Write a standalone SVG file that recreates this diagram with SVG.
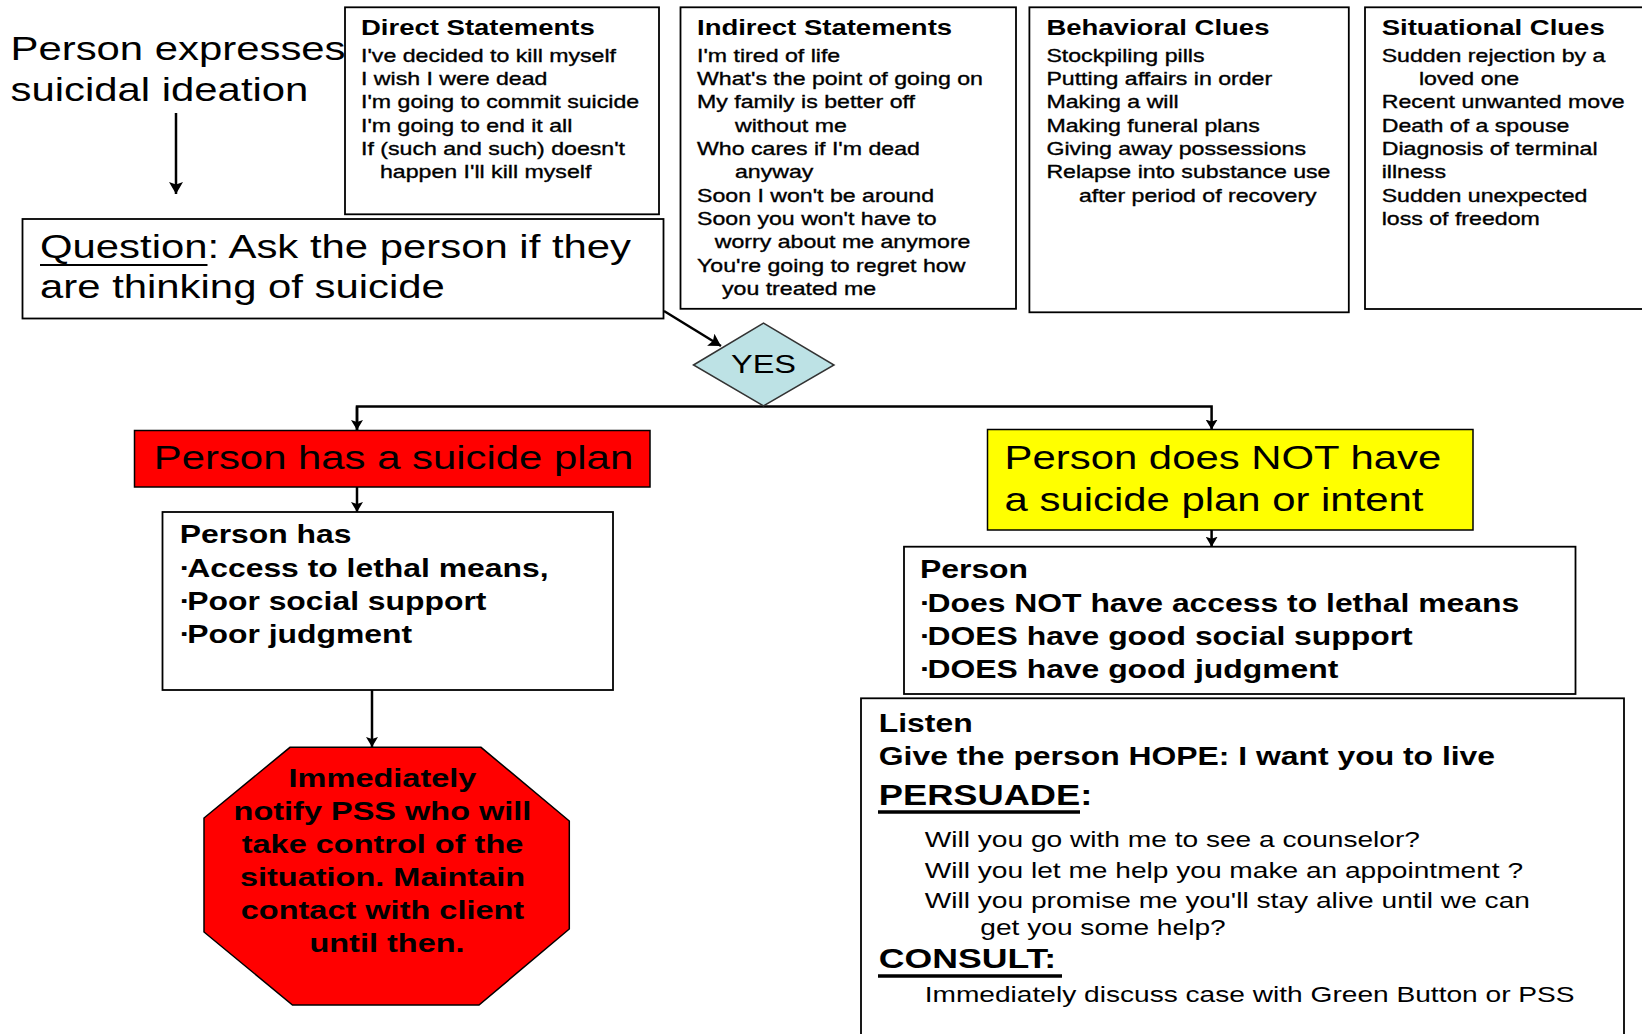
<svg xmlns="http://www.w3.org/2000/svg" width="1642" height="1034" viewBox="0 0 1642 1034">
  <style>
    text { font-family: "Liberation Sans", Arial, sans-serif; fill: #000; }
    .big { font-size: 33.5px; }
    .hd { font-size: 22px; font-weight: bold; }
    .body { font-size: 18.5px; stroke: #000; stroke-width: 0.35px; }
    .bb { font-size: 25.5px; font-weight: bold; }
    .oct { font-size: 26px; font-weight: bold; }
    .reg { font-size: 22.5px; }
    .sec { font-size: 29px; font-weight: bold; }
    .box { fill: #fff; stroke: #000; stroke-width: 1.8; }
    .conn { fill: none; stroke: #000; stroke-width: 2.5; }
    .ul { stroke: #000; }
  </style>
  <defs>
    <marker id="ah" viewBox="0 0 10 12" markerWidth="10" markerHeight="12" refX="10" refY="6" orient="auto" markerUnits="userSpaceOnUse">
      <path d="M0,0 L10,6 L0,12 L2,6 z" fill="#000"/>
    </marker>
    <marker id="ahb" viewBox="0 0 12 14" markerWidth="12" markerHeight="14" refX="12" refY="7" orient="auto" markerUnits="userSpaceOnUse">
      <path d="M0,0 L12,7 L0,14 L2.5,7 z" fill="#000"/>
    </marker>
  </defs>
  <rect width="1642" height="1034" fill="#fff"/>

  <g id="connectors">
    <line class="conn" x1="176" y1="113" x2="176" y2="194" stroke-width="2.8" marker-end="url(#ahb)"/>
    <line class="conn" x1="664" y1="311" x2="721" y2="346" stroke-width="3.5" marker-end="url(#ahb)"/>
    <polyline class="conn" points="357,430 357,406.5 1211.6,406.5 1211.6,429.5" marker-end="url(#ah)"/>
    <line class="conn" x1="357" y1="406.5" x2="357" y2="430" marker-end="url(#ah)"/>
    <line class="conn" x1="357" y1="487" x2="357" y2="512" marker-end="url(#ah)"/>
    <line class="conn" x1="372" y1="690" x2="372" y2="747" stroke-width="3" marker-end="url(#ah)"/>
    <line class="conn" x1="1211.6" y1="530" x2="1211.6" y2="546.7" marker-end="url(#ah)"/>
  </g>

  <g id="start">
    <text class="big" transform="translate(10.5,0) scale(1.25,1)"><tspan x="0" y="60">Person expresses</tspan><tspan x="0" y="101">suicidal ideation</tspan></text>
  </g>

  <g id="direct">
    <rect class="box" x="345" y="7.3" width="314" height="207"/>
    <text transform="translate(361,0) scale(1.25,1)"><tspan class="hd" x="0" y="35">Direct Statements</tspan></text>
    <text class="body" transform="translate(361,0) scale(1.25,1)">
      <tspan x="0" y="61.7">I've decided to kill myself</tspan>
      <tspan x="0" y="85">I wish I were dead</tspan>
      <tspan x="0" y="108.3">I'm going to commit suicide</tspan>
      <tspan x="0" y="131.7">I'm going to end it all</tspan>
      <tspan x="0" y="155">If (such and such) doesn't</tspan>
      <tspan x="15.2" y="178.3">happen I'll kill myself</tspan>
    </text>
  </g>

  <g id="indirect">
    <rect class="box" x="680.5" y="7.3" width="335.5" height="301.5"/>
    <text transform="translate(697,0) scale(1.25,1)"><tspan class="hd" x="0" y="35">Indirect Statements</tspan></text>
    <text class="body" transform="translate(697,0) scale(1.25,1)">
      <tspan x="0" y="61.7">I'm tired of life</tspan>
      <tspan x="0" y="85">What's the point of going on</tspan>
      <tspan x="0" y="108.3">My family is better off</tspan>
      <tspan x="30.4" y="131.7">without me</tspan>
      <tspan x="0" y="155">Who cares if I'm dead</tspan>
      <tspan x="30.4" y="178.3">anyway</tspan>
      <tspan x="0" y="201.7">Soon I won't be around</tspan>
      <tspan x="0" y="225">Soon you won't have to</tspan>
      <tspan x="14.2" y="248.3">worry about me anymore</tspan>
      <tspan x="0" y="271.7">You're going to regret how</tspan>
      <tspan x="20" y="295">you treated me</tspan>
    </text>
  </g>

  <g id="behavioral">
    <rect class="box" x="1029.4" y="7.3" width="319.4" height="305"/>
    <text transform="translate(1046.4,0) scale(1.25,1)"><tspan class="hd" x="0" y="35">Behavioral Clues</tspan></text>
    <text class="body" transform="translate(1046.4,0) scale(1.25,1)">
      <tspan x="0" y="61.7">Stockpiling pills</tspan>
      <tspan x="0" y="85">Putting affairs in order</tspan>
      <tspan x="0" y="108.3">Making a will</tspan>
      <tspan x="0" y="131.7">Making funeral plans</tspan>
      <tspan x="0" y="155">Giving away possessions</tspan>
      <tspan x="0" y="178.3">Relapse into substance use</tspan>
      <tspan x="26" y="201.7">after period of recovery</tspan>
    </text>
  </g>

  <g id="situational">
    <rect class="box" x="1365" y="7.3" width="300" height="301.7"/>
    <text transform="translate(1381.7,0) scale(1.25,1)"><tspan class="hd" x="0" y="35">Situational Clues</tspan></text>
    <text class="body" transform="translate(1381.7,0) scale(1.25,1)">
      <tspan x="0" y="61.7">Sudden rejection by a</tspan>
      <tspan x="29.8" y="85">loved one</tspan>
      <tspan x="0" y="108.3">Recent unwanted move</tspan>
      <tspan x="0" y="131.7">Death of a spouse</tspan>
      <tspan x="0" y="155">Diagnosis of terminal</tspan>
      <tspan x="0" y="178.3">illness</tspan>
      <tspan x="0" y="201.7">Sudden unexpected</tspan>
      <tspan x="0" y="225">loss of freedom</tspan>
    </text>
  </g>

  <g id="question">
    <rect class="box" x="22.5" y="219" width="641" height="99.5"/>
    <text class="big" transform="translate(40,0) scale(1.25,1)"><tspan x="0" y="258">Question: Ask the person if they</tspan><tspan x="0" y="298">are thinking of suicide</tspan></text>
    <line class="ul" x1="40" y1="265" x2="207.5" y2="265" stroke-width="2.2"/>
  </g>

  <g id="yes">
    <polygon points="693.5,365 763.5,323 834,365 763.5,406" fill="#bde2e5" stroke="#333" stroke-width="1.5"/>
    <text class="big" text-anchor="middle" transform="translate(763.5,0) scale(1.25,1)" style="font-size:26px"><tspan x="0" y="373.5">YES</tspan></text>
  </g>

  <g id="plan">
    <rect x="134.5" y="430.5" width="515.5" height="56.5" fill="#ff0000" stroke="#000" stroke-width="1.5"/>
    <text class="big" transform="translate(153.8,0) scale(1.25,1)"><tspan x="0" y="469.5">Person has a suicide plan</tspan></text>
  </g>

  <g id="has">
    <rect class="box" x="162.5" y="512" width="450.5" height="178"/>
    <text class="bb" transform="translate(179.7,0) scale(1.25,1)">
      <tspan x="0" y="543.3">Person has</tspan>
      <tspan x="0" y="576.7">·<tspan dx="-2.5">Access to lethal means,</tspan></tspan>
      <tspan x="0" y="610">·<tspan dx="-2.5">Poor social support</tspan></tspan>
      <tspan x="0" y="643.3">·<tspan dx="-2.5">Poor judgment</tspan></tspan>
    </text>
  </g>

  <g id="stop">
    <polygon points="290,747.3 481,747.3 569.3,821 569.3,929 479,1005 292.5,1005 204,932 204,818" fill="#ff0000" stroke="#000" stroke-width="1.5"/>
    <text class="oct" text-anchor="middle" transform="translate(387,0) scale(1.25,1)">
      <tspan x="0" y="787">Immediately</tspan>
      <tspan x="0" y="820">notify PSS who will</tspan>
      <tspan x="0" y="853">take control of the</tspan>
      <tspan x="0" y="886">situation. Maintain</tspan>
      <tspan x="0" y="919">contact with client</tspan>
      <tspan x="0" y="952">until then.</tspan>
    </text>
  </g>

  <g id="noplan">
    <rect x="987.5" y="429.5" width="485.5" height="100.5" fill="#ffff00" stroke="#000" stroke-width="1.5"/>
    <text class="big" transform="translate(1004.6,0) scale(1.25,1)"><tspan x="0" y="469.3">Person does NOT have</tspan><tspan x="0" y="510.7">a suicide plan or intent</tspan></text>
  </g>

  <g id="person">
    <rect class="box" x="904" y="546.7" width="671.5" height="147.3"/>
    <text class="bb" transform="translate(920,0) scale(1.25,1)">
      <tspan x="0" y="578.3">Person</tspan>
      <tspan x="0" y="611.7">·<tspan dx="-2.5">Does NOT have access to lethal means</tspan></tspan>
      <tspan x="0" y="645">·<tspan dx="-2.5">DOES have good social support</tspan></tspan>
      <tspan x="0" y="678.3">·<tspan dx="-2.5">DOES have good judgment</tspan></tspan>
    </text>
  </g>

  <g id="listen">
    <rect class="box" x="861" y="698.3" width="763" height="400"/>
    <text class="bb" transform="translate(878.8,0) scale(1.25,1)">
      <tspan x="0" y="731.7">Listen</tspan>
      <tspan x="0" y="765">Give the person HOPE: I want you to live</tspan>
    </text>
    <text class="sec" transform="translate(878.8,0) scale(1.25,1)"><tspan x="0" y="805">PERSUADE:</tspan></text>
    <line class="ul" x1="878" y1="812" x2="1080" y2="812" stroke-width="3.5"/>
    <text class="reg" transform="translate(924.7,0) scale(1.25,1)">
      <tspan x="0" y="846.7">Will you go with me to see a counselor?</tspan>
      <tspan x="0" y="878.3">Will you let me help you make an appointment ?</tspan>
      <tspan x="0" y="907.7">Will you promise me you'll stay alive until we can</tspan>
      <tspan x="44.5" y="935">get you some help?</tspan>
    </text>
    <text class="sec" transform="translate(878.8,0) scale(1.25,1)" style="font-size:28.5px"><tspan x="0" y="968.3">CONSULT:</tspan></text>
    <line class="ul" x1="878" y1="976" x2="1062" y2="976" stroke-width="3.5"/>
    <text class="reg" transform="translate(924.7,0) scale(1.25,1)"><tspan x="0" y="1001.7">Immediately discuss case with Green Button or PSS</tspan></text>
  </g>
</svg>
